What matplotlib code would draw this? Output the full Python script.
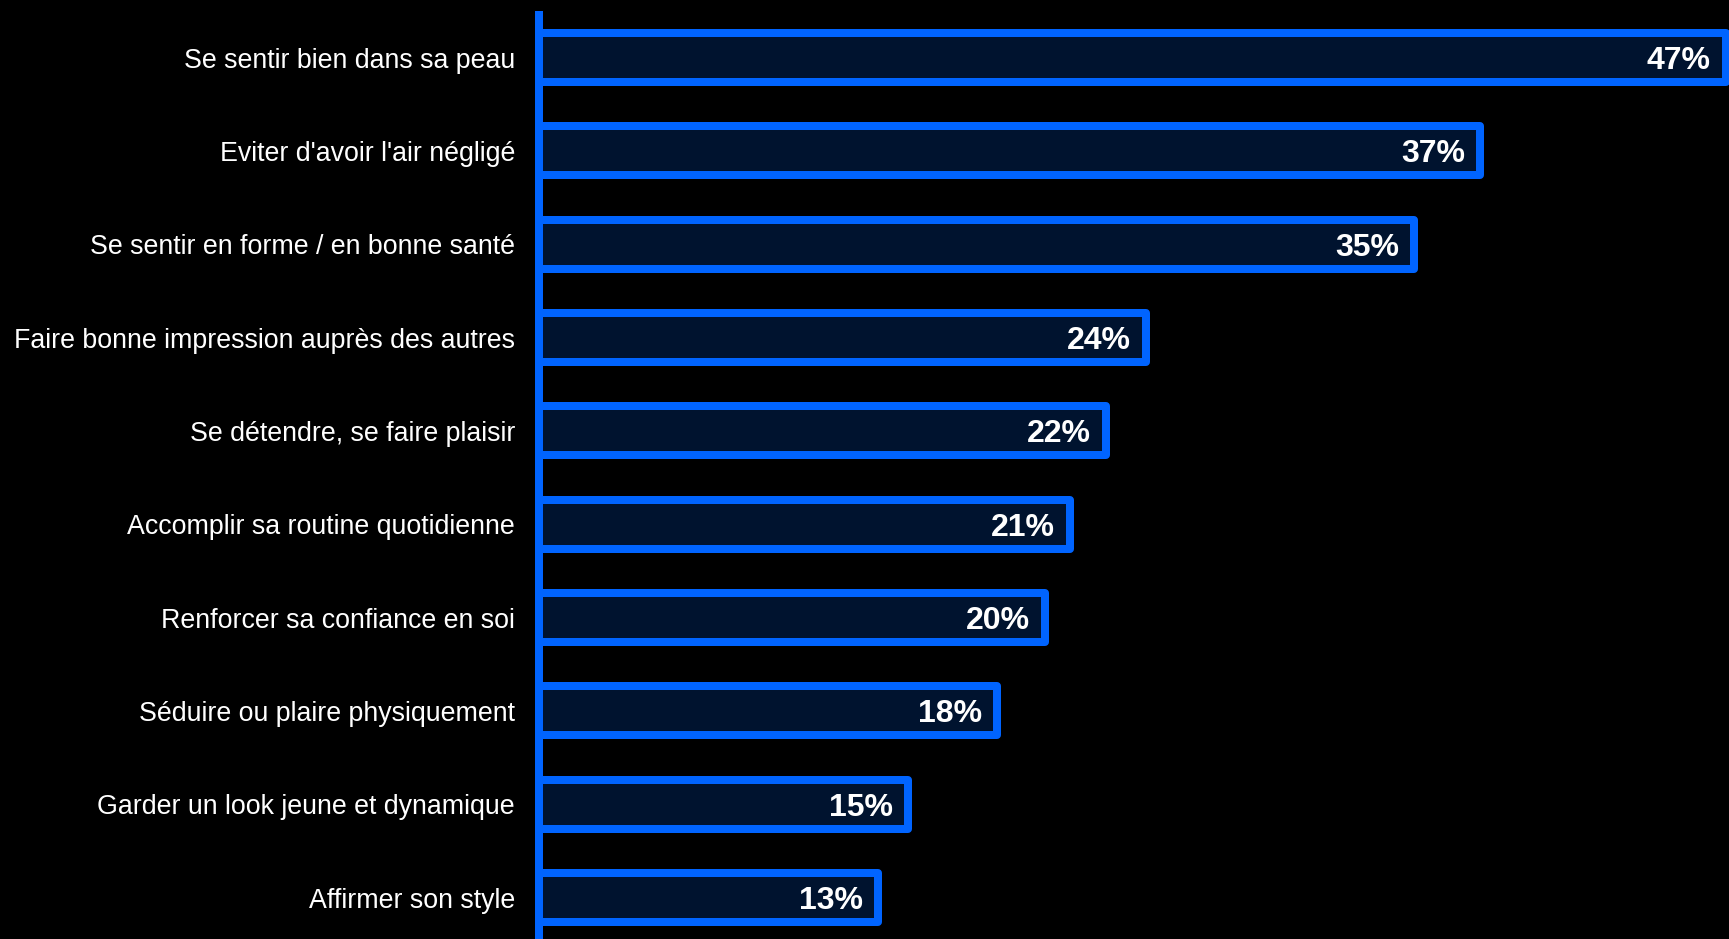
import matplotlib.pyplot as plt

# categories, top to bottom
categories = [
    "Se sentir bien dans sa peau",
    "Eviter d'avoir l'air négligé",
    "Se sentir en forme / en bonne santé",
    "Faire bonne impression auprès des autres",
    "Se détendre, se faire plaisir",
    "Accomplir sa routine quotidienne",
    "Renforcer sa confiance en soi",
    "Séduire ou plaire physiquement",
    "Garder un look jeune et dynamique",
    "Affirmer son style",
]
# shares in % (labels show them rounded)
values = [46.9, 37.2, 34.6, 24.0, 22.4, 21.0, 20.0, 18.1, 14.6, 13.4]

BLUE = "#0064FF"
FILL = "#00132F"
W, H, DPI = 1729, 939, 100

fig = plt.figure(figsize=(W / DPI, H / DPI), dpi=DPI, facecolor="black")
# axes: left edge on the blue line, top at y=11px, running off the bottom
ax = fig.add_axes([539 / W, 0, 1 - 539 / W, (H - 11) / H])
ax.set_facecolor("black")

px_per_unit = 25.3
ax.set_xlim(0, (W - 539) / px_per_unit)
step = 93.33
ax.set_ylim(-0.5 + (H - 11) / step, -0.5)

lw = 8 * 72 / DPI
y = list(range(len(categories)))
ax.barh(y, values, height=0.525, color=FILL, edgecolor=BLUE, linewidth=lw,
        joinstyle="round", zorder=2, clip_on=True)

for yi, v in zip(y, values):
    ax.annotate(f"{round(v)}%", xy=(v, yi), xytext=(-15 * 72 / DPI, -2.5),
                textcoords="offset points", ha="right", va="center",
                color="white", fontsize=23, fontweight="bold",
                family="Liberation Sans", zorder=3)

ax.set_yticks(y)
ax.set_yticklabels(categories, color="white", fontsize=19.3,
                   family="Liberation Sans")
ax.tick_params(axis="y", length=0, pad=24 * 72 / DPI)
ax.set_xticks([])

for s in ["top", "right", "bottom"]:
    ax.spines[s].set_visible(False)
ax.spines["left"].set_color(BLUE)
ax.spines["left"].set_linewidth(lw)
ax.spines["left"].set_capstyle("butt")
ax.spines["left"].set_zorder(4)

fig.savefig("out.png", dpi=DPI, facecolor="black")
